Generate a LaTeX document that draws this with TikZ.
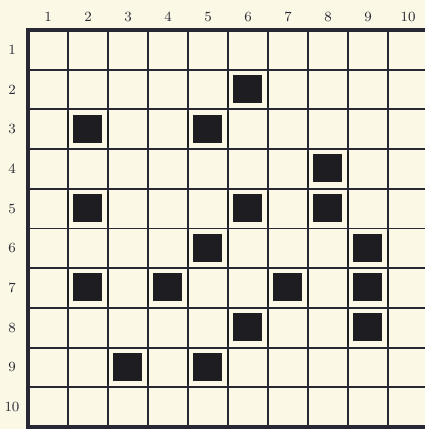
\documentclass[tikz,border=0pt]{standalone}
\usetikzlibrary{positioning}
\definecolor{paper}{RGB}{252,248,230}
\definecolor{ink}{RGB}{40,40,52}
\definecolor{cellink}{RGB}{30,30,34}
\begin{document}
\begin{tikzpicture}[x=0.02cm,y=-0.02cm,font=\footnotesize,
  hline/.style={draw=ink,line width=1.1pt},
  vline/.style={draw=ink,line width=0.8pt},
  border/.style={draw=ink,line width=2pt},
  bar/.style={draw=cellink,line width=1.5pt},
  lbl/.style={text=ink,inner sep=0pt}]
  \fill[paper] (0,0) rectangle (425,429);
  \useasboundingbox (0,0) rectangle (425,429);
  % grid
  \foreach \j in {1,...,9}
    \draw[hline] (28,30+39.7*\j) -- (425,30+39.7*\j);
  \foreach \i in {1,...,9}
    \draw[vline] (28+40*\i,30) -- (28+40*\i,427);
  \draw[border] (425,30) -- (28,30) -- (28,427) -- (425,427);
  % labels
  \foreach \i in {1,...,10}{
    \node[lbl] (col\i) at (8+40*\i,17) {\i};
    \node[lbl] (row\i) at (12,10.15+39.7*\i) {\i};
  }
  % filled cells (column/row)
  \foreach \c/\r in {6/2,2/3,5/3,8/4,2/5,6/5,8/5,5/6,9/6,2/7,4/7,7/7,9/7,6/8,9/8,3/9,5/9}{
    \fill[cellink] (40*\c-7,30+39.7*\r-34.5) rectangle ++(29,28);
    \draw[bar] (40*\c-12,30+39.7*\r-37) -- ++(0,34);
    \draw[bar] (40*\c+28,30+39.7*\r-37) -- ++(0,34);
  }
\end{tikzpicture}
\end{document}
